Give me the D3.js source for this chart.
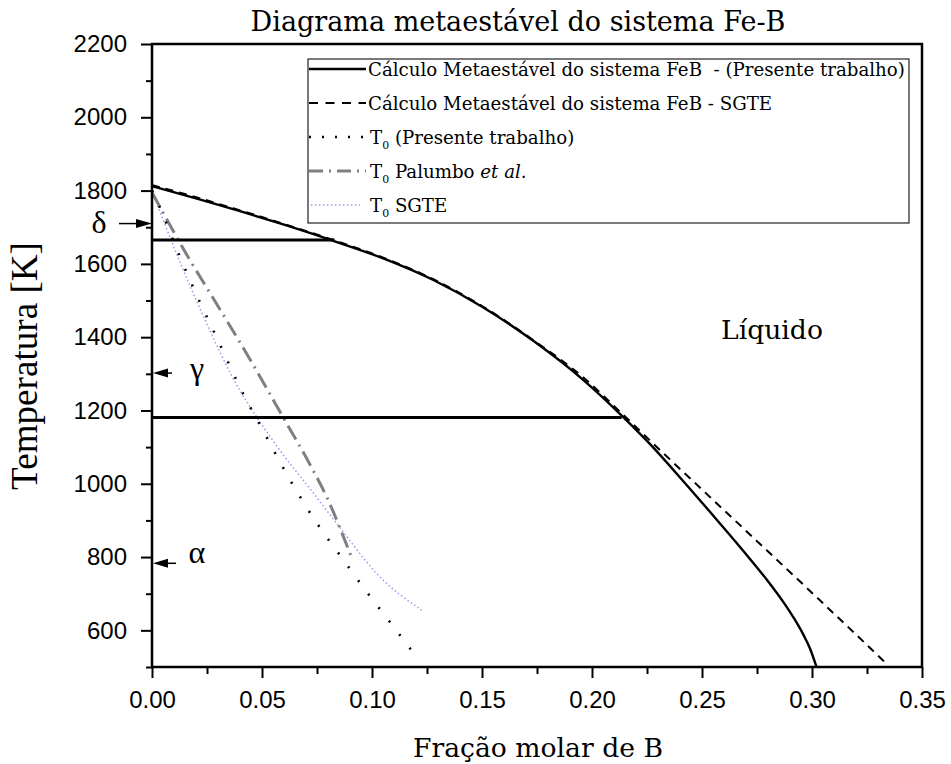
<!DOCTYPE html>
<html>
<head>
<meta charset="utf-8">
<script src="https://cdn.jsdelivr.net/npm/d3@7"></script>
<style>
  body { margin: 0; background: #fff; }
</style>
</head>
<body>
<svg id="chart" width="951" height="764"></svg>
<script>
// liquidus, metastable calculation (present work)
const liqPresenteX = [0, 0.02, 0.04, 0.06, 0.0824, 0.1051, 0.1279, 0.1506, 0.1733, 0.1961, 0.2142, 0.2264, 0.2415, 0.2567, 0.2718, 0.28, 0.287, 0.292, 0.296, 0.299, 0.302];
const liqPresenteT = [1812, 1779, 1744, 1707, 1663, 1615, 1556, 1481, 1390, 1283, 1182, 1108, 1007, 902, 795, 734, 677, 631, 589, 552, 501];
// liquidus, SGTE
const liqSgteX = [0, 0.02, 0.04, 0.06, 0.0824, 0.1051, 0.1279, 0.1506, 0.1733, 0.1961, 0.2142, 0.2309, 0.2536, 0.2749, 0.296, 0.3173, 0.333];
const liqSgteT = [1815, 1782, 1746, 1709, 1665, 1617, 1558, 1483, 1392, 1290, 1188, 1092, 964, 844, 725, 604, 514];
// T0 curves
const t0PresenteX = [0, 0.0029, 0.012, 0.0218, 0.0286, 0.0426, 0.0506, 0.0624, 0.0751, 0.0847, 0.0991, 0.109, 0.1188];
const t0PresenteT = [1800, 1763, 1629, 1495, 1409, 1232, 1144, 1014, 891, 811, 693, 616, 539];
const t0PalumboX = [0, 0.0158, 0.0264, 0.0445, 0.0605, 0.0715, 0.0794, 0.0903];
const t0PalumboT = [1795, 1625, 1520, 1340, 1172, 1056, 964, 805];
const t0SgteX = [0, 0.0127, 0.0218, 0.04, 0.0476, 0.0582, 0.0733, 0.087, 0.1021, 0.1226];
const t0SgteT = [1800, 1605, 1478, 1254, 1182, 1091, 975, 868, 755, 655];
// horizontal invariant lines
const tieT = [1665, 1181];
const tieXEnd = [0.083, 0.2135];
// phase transition markers on the temperature axis
const phaseNames = ["δ", "γ", "α"];
const phaseT = [1710, 1302, 783];

const xTicks = [0, 0.05, 0.10, 0.15, 0.20, 0.25, 0.30, 0.35];
const xMinor = [0.025, 0.075, 0.125, 0.175, 0.225, 0.275, 0.325];
const yTicks = [600, 800, 1000, 1200, 1400, 1600, 1800, 2000, 2200];
const yMinor = [500, 700, 900, 1100, 1300, 1500, 1700, 1900, 2100];

const legendLabels = [
  "Cálculo Metaestável do sistema FeB  - (Presente trabalho)",
  "Cálculo Metaestável do sistema FeB - SGTE",
  " (Presente trabalho)",
  " Palumbo ",
  " SGTE"
];

const svg = d3.select("#chart");
const pLeft = 152, pRight = 922, pTop = 44, pBottom = 667;

const x = d3.scaleLinear().domain([0, 0.35]).range([pLeft, pRight]);
const y = d3.scaleLinear().domain([500, 2200]).range([pBottom, pTop]);

function pts(xs, ts) { return xs.map((v, i) => [v, ts[i]]); }

function fitWidth(sel, target) {
  const w = sel.node().getComputedTextLength();
  const fs = parseFloat(sel.attr("font-size"));
  sel.attr("font-size", fs * target / w);
  return fs * target / w;
}

const serif = "'DejaVu Serif', serif";
const times = "'Liberation Serif', 'Times New Roman', serif";
const sans = "'Liberation Sans', Arial, sans-serif";

// series styles
const series = [
  { data: pts(liqPresenteX, liqPresenteT), color: "#000", width: 2.4, dash: null },
  { data: pts(liqSgteX, liqSgteT), color: "#000", width: 2, dash: "8,6" },
  { data: pts(t0PresenteX, t0PresenteT), color: "#000", width: 2.6, dash: "2,15" },
  { data: pts(t0PalumboX, t0PalumboT), color: "#808080", width: 3, dash: "16,6,2,6" },
  { data: pts(t0SgteX, t0SgteT), color: "#9a9af0", width: 1.5, dash: "1.5,2.5" }
];

const line = d3.line().x(d => x(d[0])).y(d => y(d[1])).curve(d3.curveMonotoneX);

svg.append("defs").append("clipPath").attr("id", "clip")
  .append("rect").attr("x", pLeft).attr("y", pTop).attr("width", pRight - pLeft).attr("height", pBottom - pTop);

const plot = svg.append("g").attr("clip-path", "url(#clip)");

// draw the lighter / under lines first
[4, 3, 2, 1, 0].forEach(i => {
  const s = series[i];
  plot.append("path")
    .datum(s.data)
    .attr("d", line)
    .attr("fill", "none")
    .attr("stroke", s.color)
    .attr("stroke-width", s.width)
    .attr("stroke-dasharray", s.dash);
});

// tie lines
plot.selectAll(".tie")
  .data(tieT)
  .enter()
  .append("line")
    .attr("x1", x(0))
    .attr("x2", (d, i) => x(tieXEnd[i]))
    .attr("y1", d => y(d))
    .attr("y2", d => y(d))
    .attr("stroke", "#000")
    .attr("stroke-width", 3);

// axes
const axB = svg.append("g").attr("transform", `translate(0,${pBottom})`)
  .call(d3.axisBottom(x).tickValues(xTicks).tickSize(11).tickPadding(13).tickFormat(d3.format(".2f")));
const axBm = svg.append("g").attr("transform", `translate(0,${pBottom})`)
  .call(d3.axisBottom(x).tickValues(xMinor).tickSize(7).tickFormat(""));
const axL = svg.append("g").attr("transform", `translate(${pLeft},0)`)
  .call(d3.axisLeft(y).tickValues(yTicks).tickSize(11).tickPadding(14).tickFormat(d3.format("d")));
const axLm = svg.append("g").attr("transform", `translate(${pLeft},0)`)
  .call(d3.axisLeft(y).tickValues(yMinor).tickSize(6).tickFormat(""));

[axB, axBm, axL, axLm].forEach(a => {
  a.select(".domain").remove();
  a.selectAll("line").attr("stroke", "#000").attr("stroke-width", 2);
  a.selectAll("text").attr("font-family", sans).attr("font-size", 24).attr("fill", "#000");
});

// frame
svg.append("rect")
  .attr("x", pLeft).attr("y", pTop)
  .attr("width", pRight - pLeft).attr("height", pBottom - pTop)
  .attr("fill", "none").attr("stroke", "#000").attr("stroke-width", 2.5);

// phase markers
const marker = svg.selectAll(".phase")
  .data(phaseT)
  .enter()
  .append("g");

marker.each(function(d, i) {
  const g = d3.select(this);
  const yy = y(d);
  if (i === 0) {
    g.append("line").attr("x1", 119).attr("x2", 138).attr("y1", yy).attr("y2", yy)
      .attr("stroke", "#000").attr("stroke-width", 1.5);
    g.append("path").attr("d", `M${pLeft},${yy} L${pLeft - 16},${yy - 4.5} L${pLeft - 16},${yy + 4.5} Z`).attr("fill", "#000");
    g.append("text").attr("x", 99).attr("y", yy + 9).attr("text-anchor", "middle")
      .attr("font-family", times).attr("font-size", 32).text(phaseNames[i]);
  } else {
    const len = i === 1 ? 20 : 24;
    g.append("line").attr("x1", pLeft + 12).attr("x2", pLeft + len).attr("y1", yy).attr("y2", yy)
      .attr("stroke", "#000").attr("stroke-width", 1.5);
    g.append("path").attr("d", `M${pLeft + 1},${yy} L${pLeft + 16},${yy - 4.5} L${pLeft + 16},${yy + 4.5} Z`).attr("fill", "#000");
    g.append("text").attr("x", 197).attr("y", yy + (i === 1 ? 6 : 0)).attr("text-anchor", "middle")
      .attr("font-family", times).attr("font-size", 32).text(phaseNames[i]);
  }
});

// Líquido label
const liq = svg.append("text").attr("x", 721).attr("y", 339)
  .attr("font-family", serif).attr("font-size", 28).text("Líquido");
fitWidth(liq, 102);

// title
const title = svg.append("text").attr("x", 518).attr("y", 31).attr("text-anchor", "middle")
  .attr("font-family", serif).attr("font-size", 28).text("Diagrama metaestável do sistema Fe-B");
fitWidth(title, 535);

// x label
const xl = svg.append("text").attr("x", 538).attr("y", 757).attr("text-anchor", "middle")
  .attr("font-family", serif).attr("font-size", 28).text("Fração molar de B");
fitWidth(xl, 250);

// y label
const yl = svg.append("text").attr("transform", "translate(37,366) rotate(-90)").attr("text-anchor", "middle")
  .attr("font-family", times).attr("font-size", 34).text("Temperatura [K]");
fitWidth(yl, 248);

// legend
const lg = svg.append("g");
lg.append("rect").attr("x", 308).attr("y", 59).attr("width", 601).attr("height", 164)
  .attr("fill", "#fff").attr("stroke", "#222").attr("stroke-width", 1.2);

const rowY = d3.scalePoint().domain(d3.range(5)).range([69, 205]);
const rows = lg.selectAll(".row").data(series).enter().append("g")
  .attr("transform", (d, i) => `translate(0,${rowY(i)})`);

rows.append("line")
  .attr("x1", (d, i) => i === 4 ? 311 : 309)
  .attr("x2", (d, i) => i === 4 ? 360 : 366)
  .attr("y1", 0).attr("y2", 0)
  .attr("stroke", d => d.color)
  .attr("stroke-width", d => d.width)
  .attr("stroke-dasharray", (d, i) => i === 1 ? "9,7.5" : i === 2 ? "2,11" : i === 3 ? "14,6,2,6" : d.dash);

const first = lg.append("text").attr("font-family", serif).attr("font-size", 18)
  .style("white-space", "pre").text(legendLabels[0]);
const legendFs = fitWidth(first, 537);
first.remove();

rows.each(function(d, i) {
  const t = d3.select(this).append("text")
    .attr("x", 368).attr("y", 7)
    .style("white-space", "pre")
    .attr("font-family", serif).attr("font-size", legendFs);
  if (i < 2) {
    t.text(legendLabels[i]);
  } else {
    t.attr("x", 370);
    t.append("tspan").text("T");
    t.append("tspan").attr("font-size", legendFs * 0.6).attr("dy", 5).text("0");
    const rest = t.append("tspan").attr("dy", -5);
    rest.text(legendLabels[i]);
    if (i === 3) t.append("tspan").attr("font-style", "italic").text("et al.");
  }
});
</script>
</body>
</html>
